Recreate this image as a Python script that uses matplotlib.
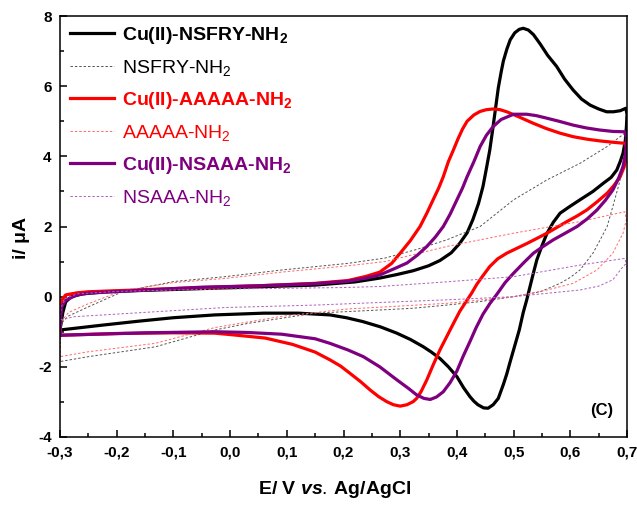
import matplotlib
matplotlib.use("Agg")
import matplotlib.pyplot as plt
from matplotlib.ticker import MultipleLocator, FuncFormatter

plt.rcParams['font.family'] = ['Liberation Sans', 'DejaVu Sans']
plt.rcParams['mathtext.fontset'] = 'custom'
plt.rcParams['mathtext.rm'] = 'Liberation Sans'
plt.rcParams['mathtext.bf'] = 'Liberation Sans:bold'
plt.rcParams['mathtext.it'] = 'Liberation Sans:italic:bold'

# values (E in V, i in uA)
# forward scan then reverse scan for each curve
cu_nsfry_E = [-0.300, -0.295, -0.29, -0.28, -0.26, -0.22, -0.15, -0.05, 0.05, 0.15, 0.22, 0.264, 0.294,
              0.323, 0.35, 0.37, 0.39, 0.405, 0.418, 0.428, 0.438, 0.446, 0.452, 0.458, 0.463, 0.468,
              0.473, 0.478, 0.482, 0.488, 0.494, 0.502, 0.51, 0.517, 0.526, 0.535, 0.547, 0.56, 0.576,
              0.59, 0.605, 0.62, 0.635, 0.65, 0.664, 0.676, 0.688, 0.698,
              0.700, 0.699, 0.697, 0.693, 0.688, 0.682, 0.672, 0.658, 0.64, 0.617, 0.6, 0.582, 0.57,
              0.559, 0.55, 0.541, 0.535, 0.529, 0.523, 0.517, 0.51, 0.502, 0.494, 0.488, 0.482, 0.473,
              0.464, 0.455, 0.447, 0.437, 0.43, 0.423, 0.412, 0.4, 0.385, 0.37, 0.355, 0.341, 0.318,
              0.294, 0.265, 0.234, 0.205, 0.176, 0.12, 0.06, -0.027, -0.1, -0.162, -0.23, -0.3]
cu_nsfry_i = [-0.95, -0.45, -0.15, 0.0, 0.08, 0.14, 0.18, 0.23, 0.28, 0.33, 0.42, 0.53, 0.63,
              0.74, 0.88, 1.03, 1.25, 1.52, 1.82, 2.19, 2.65, 3.14, 3.65, 4.18, 4.75, 5.35,
              5.95, 6.4, 6.72, 7.05, 7.32, 7.52, 7.62, 7.65, 7.6, 7.47, 7.2, 6.88, 6.56,
              6.2, 5.89, 5.63, 5.46, 5.35, 5.27, 5.27, 5.3, 5.37,
              5.2, 4.85, 4.45, 4.09, 3.85, 3.61, 3.4, 3.23, 3.0, 2.76, 2.58, 2.38, 2.12,
              1.81, 1.45, 1.05, 0.68, 0.29, -0.1, -0.45, -0.95, -1.4, -1.85, -2.2, -2.5, -2.9,
              -3.08, -3.18, -3.17, -3.08, -2.98, -2.85, -2.6, -2.28, -2.0, -1.76, -1.58, -1.43, -1.22,
              -1.04, -0.86, -0.71, -0.6, -0.52, -0.47, -0.47, -0.52, -0.6, -0.7, -0.82, -0.95]

cu_aaaaa_E = [-0.3, -0.299, -0.297, -0.29, -0.27, -0.25, -0.15, -0.05, 0.05, 0.15, 0.208, 0.24, 0.264,
              0.285, 0.30, 0.318, 0.335, 0.347, 0.358, 0.368, 0.376, 0.385, 0.393, 0.402, 0.41, 0.418,
              0.43, 0.441, 0.452, 0.464, 0.476, 0.488, 0.51, 0.535, 0.558, 0.582, 0.605, 0.629, 0.652,
              0.676, 0.697,
              0.700, 0.699, 0.695, 0.688, 0.677, 0.665, 0.647, 0.629, 0.612, 0.594, 0.576, 0.559, 0.541,
              0.524, 0.506, 0.488, 0.472, 0.458, 0.446, 0.435, 0.426, 0.417, 0.405, 0.394, 0.382, 0.37,
              0.358, 0.347, 0.337, 0.329, 0.323, 0.312, 0.30, 0.288, 0.276, 0.262, 0.247, 0.23, 0.211,
              0.195, 0.176, 0.15, 0.11, 0.062, 0.0, -0.027, -0.1, -0.2, -0.3]
cu_aaaaa_i = [-1.1, -0.5, -0.1, 0.05, 0.11, 0.14, 0.2, 0.26, 0.31, 0.38, 0.46, 0.58, 0.7,
              0.95, 1.24, 1.6, 2.0, 2.38, 2.76, 3.1, 3.42, 3.85, 4.15, 4.5, 4.78, 5.0,
              5.18, 5.28, 5.33, 5.35, 5.33, 5.27, 5.12, 4.94, 4.79, 4.66, 4.56, 4.49, 4.44,
              4.4, 4.37,
              4.2, 3.99, 3.7, 3.42, 3.17, 2.95, 2.7, 2.47, 2.3, 2.14, 1.97, 1.81, 1.66,
              1.52, 1.38, 1.24, 1.08, 0.86, 0.6, 0.35, 0.1, -0.12, -0.42, -0.76, -1.14, -1.52,
              -1.95, -2.37, -2.7, -2.9, -2.99, -3.08, -3.12, -3.08, -2.99, -2.85, -2.66, -2.42, -2.18,
              -1.98, -1.8, -1.58, -1.36, -1.18, -1.08, -1.04, -1.03, -1.05, -1.1]

cu_nsaaa_E = [-0.3, -0.299, -0.297, -0.29, -0.27, -0.25, -0.15, -0.05, 0.05, 0.15, 0.208, 0.24, 0.264,
              0.29, 0.312, 0.33, 0.347, 0.362, 0.376, 0.388, 0.4, 0.41, 0.418, 0.43, 0.441, 0.452,
              0.464, 0.478, 0.5, 0.523, 0.54, 0.558, 0.58, 0.605, 0.628, 0.652, 0.675, 0.696,
              0.700, 0.699, 0.697, 0.693, 0.685, 0.675, 0.662, 0.647, 0.63, 0.612, 0.59, 0.57, 0.552,
              0.535, 0.518, 0.50, 0.485, 0.471, 0.458, 0.446, 0.434, 0.423, 0.411, 0.4, 0.388, 0.376,
              0.364, 0.353, 0.342, 0.329, 0.315, 0.294, 0.264, 0.235, 0.208, 0.176, 0.15, 0.091, 0.03,
              -0.027, -0.15, -0.3]
cu_nsaaa_i = [-1.1, -0.6, -0.29, -0.1, 0.05, 0.1, 0.19, 0.27, 0.31, 0.37, 0.44, 0.53, 0.62,
              0.8, 0.96, 1.18, 1.43, 1.7, 2.0, 2.35, 2.76, 3.1, 3.42, 3.85, 4.28, 4.6,
              4.85, 5.05, 5.2, 5.2, 5.16, 5.09, 5.0, 4.89, 4.81, 4.75, 4.71, 4.7,
              4.55, 4.37, 4.05, 3.71, 3.37, 3.04, 2.75, 2.47, 2.22, 2.0, 1.8, 1.62, 1.43,
              1.24, 0.97, 0.67, 0.4, 0.08, -0.2, -0.5, -0.88, -1.28, -1.7, -2.12, -2.45, -2.71,
              -2.86, -2.93, -2.9, -2.8, -2.62, -2.37, -2.0, -1.71, -1.52, -1.33, -1.2, -1.07, -1.02,
              -1.0, -1.03, -1.1]

nsfry_E = [-0.3, -0.299, -0.297, -0.285, -0.25, -0.19, -0.1, -0.009, 0.091, 0.208, 0.273, 0.33,
           0.382, 0.441, 0.5, 0.559, 0.617, 0.665, 0.696,
           0.699, 0.693, 0.688, 0.675, 0.665, 0.652, 0.64, 0.617, 0.6, 0.582, 0.547, 0.5, 0.441,
           0.382, 0.323, 0.264, 0.15, 0.032, -0.027, -0.132, -0.25, -0.3]
nsfry_i = [-1.85, -1.2, -0.75, -0.55, -0.29, 0.14, 0.43, 0.57, 0.76, 0.95, 1.1, 1.35,
           1.62, 2.0, 2.76, 3.33, 3.8, 4.28, 4.66,
           4.3, 3.8, 3.33, 2.57, 2.0, 1.6, 1.24, 0.76, 0.55, 0.38, 0.14, 0.0, -0.14,
           -0.24, -0.33, -0.38, -0.47, -0.76, -0.95, -1.43, -1.71, -1.85]

aaaaa_E = [-0.3, -0.299, -0.297, -0.285, -0.25, -0.19, -0.1, -0.009, 0.091, 0.208, 0.273, 0.382,
           0.5, 0.617, 0.696,
           0.699, 0.693, 0.675, 0.647, 0.605, 0.559, 0.5, 0.382, 0.264, 0.208, 0.091, -0.027,
           -0.132, -0.25, -0.3]
aaaaa_i = [-1.71, -1.1, -0.7, -0.45, -0.2, 0.17, 0.4, 0.52, 0.7, 0.88, 1.0, 1.43,
           1.81, 2.14, 2.42,
           2.2, 1.81, 1.24, 0.76, 0.38, 0.19, 0.0, -0.19, -0.3, -0.35, -0.56, -0.88,
           -1.33, -1.57, -1.71]

nsaaa_E = [-0.3, -0.298, -0.29, -0.27, -0.2, -0.1, 0.0, 0.1, 0.2, 0.264, 0.38, 0.5, 0.617, 0.696,
           0.699, 0.693, 0.675, 0.65, 0.617, 0.5, 0.382, 0.273, 0.15, -0.009, -0.132, -0.274, -0.3]
nsaaa_i = [-0.66, -0.3, -0.05, 0.08, 0.15, 0.19, 0.22, 0.24, 0.26, 0.29, 0.42, 0.57, 0.9, 1.09,
           0.95, 0.86, 0.48, 0.3, 0.19, 0.0, -0.09, -0.16, -0.24, -0.31, -0.43, -0.57, -0.66]

labels = ['Cu(II)-NSFRY-NH$_\\mathbf{2}$', 'NSFRY-NH$_2$',
          'Cu(II)-AAAAA-NH$_\\mathbf{2}$', 'AAAAA-NH$_2$',
          'Cu(II)-NSAAA-NH$_\\mathbf{2}$', 'NSAAA-NH$_2$']
text_colors = ['black', 'black', '#ff0000', '#ff0000', '#7f007f', '#7f007f']

fig = plt.figure(figsize=(6.37, 5.08), dpi=100)
ax = fig.add_axes([60 / 637, 1 - 437 / 508, 567 / 637, 421 / 508])

ax.plot(cu_nsfry_E, cu_nsfry_i, color='black', lw=2.3, label=labels[0])
ax.plot(nsfry_E, nsfry_i, color='#555555', lw=0.7, ls=(0, (2.5, 2)), label=labels[1])
ax.plot(cu_aaaaa_E, cu_aaaaa_i, color='#ff0000', lw=2.3, label=labels[2])
ax.plot(aaaaa_E, aaaaa_i, color='#ff6a6a', lw=0.7, ls=(0, (2.5, 2)), label=labels[3])
ax.plot(cu_nsaaa_E, cu_nsaaa_i, color='#7f007f', lw=2.3, label=labels[4])
ax.plot(nsaaa_E, nsaaa_i, color='#b060c0', lw=0.7, ls=(0, (2.5, 2)), label=labels[5])

ax.set_xlim(-0.3, 0.7)
ax.set_ylim(-4, 8)
ax.xaxis.set_major_locator(MultipleLocator(0.1))
ax.xaxis.set_minor_locator(MultipleLocator(0.05))
ax.yaxis.set_major_locator(MultipleLocator(2))
ax.yaxis.set_minor_locator(MultipleLocator(1))
ax.xaxis.set_major_formatter(FuncFormatter(lambda v, p: ('%.1f' % v).replace('.', ',')))
ax.yaxis.set_major_formatter(FuncFormatter(lambda v, p: '%d' % round(v)))
ax.tick_params(which='both', direction='in', width=1.1, top=False, right=False)
ax.tick_params(which='major', length=5, labelsize=11, pad=6)
ax.tick_params(which='minor', length=3)
for lab in ax.get_xticklabels() + ax.get_yticklabels():
    lab.set_fontweight('bold')
for sp in ax.spines.values():
    sp.set_linewidth(1.1)

leg = ax.legend(loc='upper left', bbox_to_anchor=(0.017, 0.978), frameon=False, fontsize=14,
                handlelength=2.3, handletextpad=0.4, borderpad=0, borderaxespad=0, labelspacing=0.61)
for t, c, lbl in zip(leg.get_texts(), text_colors, labels):
    t.set_color(c)
    if lbl.startswith('Cu'):
        t.set_fontweight('bold')

ax.text(0.975, 0.045, '(C)', transform=ax.transAxes, ha='right', va='bottom',
        fontsize=12, fontweight='bold')

fig.text(335 / 637, 1 - 490 / 508, 'E/ V $vs.\\,$Ag/AgCl', ha='center', va='center',
         fontsize=14, fontweight='bold')
fig.text(22 / 637, 1 - 238 / 508, 'i/ \u03bcA', ha='center', va='center', rotation=90,
         fontsize=14, fontweight='bold')

fig.savefig('out.png', dpi=100)
